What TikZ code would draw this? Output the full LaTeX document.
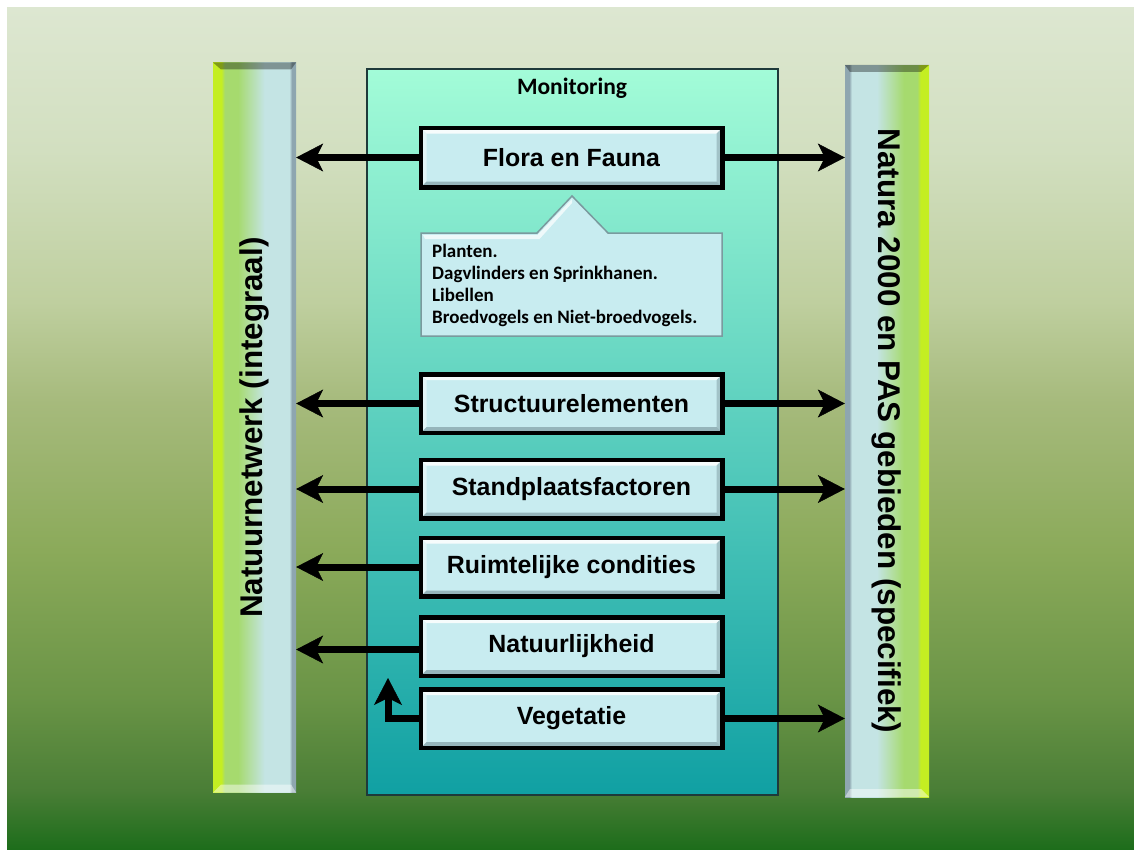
\documentclass[tikz,border=0pt]{standalone}
\usepackage{fontspec}
\setmainfont{Liberation Sans}
\newfontfamily\calfont{Carlito}
\usetikzlibrary{arrows.meta,calc}

\definecolor{bgA}{HTML}{DDE7D1}
\definecolor{bgB}{HTML}{D2DFC0}
\definecolor{bgC}{HTML}{BFCF9F}
\definecolor{bgD}{HTML}{A6BA7C}
\definecolor{bgE}{HTML}{8BAA5A}
\definecolor{bgF}{HTML}{6A9446}
\definecolor{bgG}{HTML}{4A7E36}
\definecolor{bgH}{HTML}{1D6D1B}
\definecolor{yg}{HTML}{C4EE22}
\definecolor{lg}{HTML}{A6DA6E}
\definecolor{lb}{HTML}{C4E4E4}
\definecolor{gb}{HTML}{8EA6B0}
\definecolor{monTop}{HTML}{A3FCD8}
\definecolor{monBot}{HTML}{10A0A3}
\definecolor{monEdge}{HTML}{1E3A3A}
\definecolor{boxfill}{HTML}{C8ECF0}
\definecolor{boxshade}{HTML}{8AA8AE}
\definecolor{calloutEdge}{HTML}{7A9A9E}

\pgfdeclareverticalshading{bgshade}{100bp}{color(0bp)=(bgH); color(25bp)=(bgH); color(28.5bp)=(bgG); color(34bp)=(bgF); color(42.75bp)=(bgE); color(51.5bp)=(bgD); color(57.5bp)=(bgC); color(66.5bp)=(bgB); color(75bp)=(bgA); color(100bp)=(bgA)}
\pgfdeclarehorizontalshading{lbarsh}{100bp}{color(0bp)=(yg); color(25bp)=(yg); color(30bp)=(yg); color(32bp)=(lg); color(40bp)=(lg); color(56bp)=(lb); color(71bp)=(lb); color(72.5bp)=(gb); color(75bp)=(gb); color(100bp)=(gb)}
\pgfdeclarehorizontalshading{rbarsh}{100bp}{color(0bp)=(gb); color(25bp)=(gb); color(27.5bp)=(gb); color(29bp)=(lb); color(44bp)=(lb); color(60bp)=(lg); color(68bp)=(lg); color(70bp)=(yg); color(75bp)=(yg); color(100bp)=(yg)}

\begin{document}
\begin{tikzpicture}[x=1pt,y=-1pt,
  bar/.style={draw=none, inner sep=0pt, minimum width=83pt, minimum height=730pt},
  bartext/.style={font=\fontsize{31.4}{36}\selectfont\bfseries, text=black, inner sep=0pt},
  box/.style={draw=black, line width=3pt, fill=boxfill, minimum width=300pt, minimum height=57pt,
    inner sep=0pt, font=\fontsize{24.9}{28}\selectfont\bfseries,
    path picture={
      \fill[white,opacity=0.85] (path picture bounding box.north west) -- (path picture bounding box.north east)
        -- ++(-5pt,-5pt) -- ($(path picture bounding box.north west)+(5pt,-5pt)$) -- cycle;
      \fill[white,opacity=0.5] (path picture bounding box.north west) -- (path picture bounding box.south west)
        -- ++(5pt,5pt) -- ($(path picture bounding box.north west)+(5pt,-5pt)$) -- cycle;
      \fill[boxshade,opacity=0.8] (path picture bounding box.south west) -- (path picture bounding box.south east)
        -- ++(-5pt,5pt) -- ($(path picture bounding box.south west)+(5pt,5pt)$) -- cycle;
      \fill[boxshade,opacity=0.6] (path picture bounding box.north east) -- (path picture bounding box.south east)
        -- ++(-5pt,5pt) -- ($(path picture bounding box.north east)+(-5pt,-5pt)$) -- cycle;
    }},
  arr/.style={draw=black, line width=7pt, -{Stealth[length=27pt,width=28pt,inset=7pt,line width=0.5pt]}},
]
\useasboundingbox (0,0) rectangle (1134,849);
\fill[white] (0,0) rectangle (1134,849);
\shade[shading=bgshade] (7,7) rectangle (1134,849);

% side bars
\node[bar, shading=lbarsh] (lbar) at (254.5,427.5) {};
\fill[black,opacity=0.35] (lbar.north west) -- (lbar.north east) -- ++(-5pt,-7pt) -- ($(lbar.north west)+(8pt,-7pt)$) -- cycle;
\fill[white,opacity=0.45] (lbar.south west) -- (lbar.south east) -- ++(-5pt,8pt) -- ($(lbar.south west)+(8pt,8pt)$) -- cycle;
\node[bartext, rotate=90] (ltext) at (lbar.center) {Natuurnetwerk (integraal)};

\node[bar, shading=rbarsh, minimum width=84pt, minimum height=732pt] (rbar) at (887,431) {};
\fill[black,opacity=0.35] (rbar.north west) -- (rbar.north east) -- ++(-8pt,-7pt) -- ($(rbar.north west)+(5pt,-7pt)$) -- cycle;
\fill[white,opacity=0.45] (rbar.south west) -- (rbar.south east) -- ++(-8pt,8pt) -- ($(rbar.south west)+(5pt,8pt)$) -- cycle;
\node[bartext, rotate=-90] (rtext) at (rbar.center) {Natura 2000 en PAS gebieden (specifiek)};

% monitoring frame
\node[draw=monEdge, line width=2pt, top color=monTop, bottom color=monBot,
  minimum width=411pt, minimum height=726pt, inner sep=0pt] (mon) at (572,431.5) {};
\node[font=\calfont\bfseries\fontsize{23.5}{26}\selectfont] (montitle) at (572,88) {Monitoring};

% boxes
\node[box, minimum height=58pt] (ff) at (571.5,157.5) {Flora en Fauna};
\node[box] (se) at (571.5,403.5) {Structuurelementen};
\node[box] (sf) at (571.5,489) {Standplaatsfactoren};
\node[box] (rc) at (571.5,567) {Ruimtelijke condities};
\node[box] (nh) at (571.5,646.5) {Natuurlijkheid};
\node[box] (vg) at (571.5,718.5) {Vegetatie};

% callout
\fill[boxfill, draw=calloutEdge, line width=1.5pt]
  (421,233) -- (537,233) -- (572,196) -- (608,233) -- (722,233) -- (722,336) -- (421,336) -- cycle;
\fill[white,opacity=0.7] (423,235) -- (537.5,235) -- (572,199) -- (572,203) -- (539.5,239) -- (425,239) -- cycle;
\node[anchor=west, align=left, inner sep=0pt,
  font=\calfont\bfseries\fontsize{19}{22}\selectfont] (lst) at (432,285)
  {Planten.\\Dagvlinders en Sprinkhanen.\\Libellen\\Broedvogels en Niet-broedvogels.};

% arrows
\begin{scope}[on background layer/.style={}]
\end{scope}
\draw[arr] (ff.west) -- (ff.west -| lbar.east);
\draw[arr] (ff.east) -- (ff.east -| rbar.west);
\draw[arr] (se.west) -- (se.west -| lbar.east);
\draw[arr] (se.east) -- (se.east -| rbar.west);
\draw[arr] (sf.west) -- (sf.west -| lbar.east);
\draw[arr] (sf.east) -- (sf.east -| rbar.west);
\draw[arr] (rc.west) -- (rc.west -| lbar.east);
\draw[arr] ([yshift=-3pt]nh.west) -- ([yshift=-3pt]nh.west -| lbar.east);
\draw[arr] (vg.east) -- (vg.east -| rbar.west);
\coordinate (uptip) at (388,678);
\draw[arr] (vg.west) -| (uptip);

% redraw box borders on top of arrow starts
\foreach \n in {ff,se,sf,rc,nh,vg}{
  \draw[black, line width=3pt] (\n.north west) rectangle (\n.south east);
}
\end{tikzpicture}
\end{document}
